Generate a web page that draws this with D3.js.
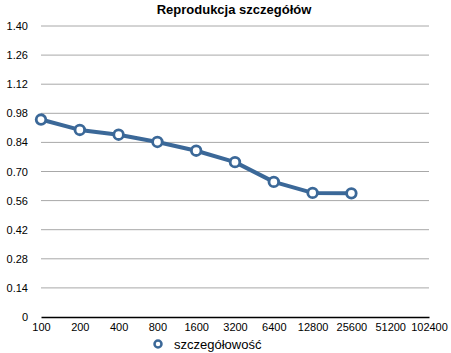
<!DOCTYPE html>
<html>
<head>
<meta charset="utf-8">
<script src="https://cdn.jsdelivr.net/npm/d3@7"></script>
<style>
  body { margin: 0; background: #fff; }
  svg text { font-family: "Liberation Sans", Arial, sans-serif; fill: #000; }
</style>
</head>
<body>
<div id="chart"></div>
<script>
// chart data
var categories = ["100", "200", "400", "800", "1600", "3200", "6400", "12800", "25600", "51200", "102400"];
var seriesName = "szczegółowość";
var seriesValues = [0.95, 0.90, 0.877, 0.842, 0.80, 0.745, 0.65, 0.597, 0.595];
var yTicks = [0, 0.14, 0.28, 0.42, 0.56, 0.70, 0.84, 0.98, 1.12, 1.26, 1.40];

var width = 451, height = 353;
var margin = { top: 26, right: 22, bottom: 36, left: 41 };
var innerW = width - margin.left - margin.right,
  innerH = height - margin.top - margin.bottom;
var color = "#3b6898";

var svg = d3.select("#chart").append("svg")
  .attr("width", width)
  .attr("height", height);

svg.append("text")
  .attr("x", 234)
  .attr("y", 14)
  .attr("text-anchor", "middle")
  .style("font-size", "13px")
  .style("font-weight", "bold")
  .text("Reprodukcja szczegółów");

var g = svg.append("g")
  .attr("transform", "translate(" + margin.left + "," + margin.top + ")");

var x = d3.scalePoint()
  .domain(categories)
  .range([0, innerW]);

var y = d3.scaleLinear()
  .domain([0, 1.40])
  .range([innerH, 0]);

// horizontal grid
g.append("g")
  .selectAll("line")
  .data(yTicks.filter(function(d) { return d > 0; }))
  .enter().append("line")
  .attr("x1", 0)
  .attr("x2", innerW)
  .attr("y1", function(d) { return y(d); })
  .attr("y2", function(d) { return y(d); })
  .attr("stroke", "#a8a8a8")
  .attr("stroke-width", 1);

// y labels
var yAxis = d3.axisLeft(y)
  .tickValues(yTicks)
  .tickSize(0)
  .tickPadding(13)
  .tickFormat(function(d) { return d === 0 ? "0" : d3.format(".2f")(d); });

g.append("g")
  .call(yAxis)
  .call(function(s) { s.select(".domain").remove(); })
  .selectAll("text")
  .style("font-size", "11px")
  .style("font-family", "'Liberation Sans', Arial, sans-serif");

// x axis
var xAxis = d3.axisBottom(x).tickSize(0).tickPadding(6);
g.append("g")
  .attr("transform", "translate(0," + innerH + ")")
  .call(xAxis)
  .call(function(s) {
    s.select(".domain").attr("stroke", "#000").attr("stroke-width", 1.5);
  })
  .selectAll("text")
  .style("font-size", "11px")
  .style("font-family", "'Liberation Sans', Arial, sans-serif");

// series line
var line = d3.line()
  .x(function(d, i) { return x(categories[i]); })
  .y(function(d) { return y(d); });

g.append("path")
  .datum(seriesValues)
  .attr("fill", "none")
  .attr("stroke", color)
  .attr("stroke-width", 4)
  .attr("stroke-linejoin", "round")
  .attr("d", line);

g.selectAll(".pt")
  .data(seriesValues)
  .enter().append("circle")
  .attr("class", "pt")
  .attr("cx", function(d, i) { return x(categories[i]); })
  .attr("cy", function(d) { return y(d); })
  .attr("r", 4.8)
  .attr("fill", "#fff")
  .attr("stroke", color)
  .attr("stroke-width", 2.8);

// legend
var legend = svg.append("g").attr("transform", "translate(158,344)");
legend.append("circle")
  .attr("r", 3.5)
  .attr("fill", "#fff")
  .attr("stroke", color)
  .attr("stroke-width", 2.5);
legend.append("text")
  .attr("x", 16)
  .attr("y", 5)
  .style("font-size", "13px")
  .text(seriesName);
</script>
</body>
</html>
